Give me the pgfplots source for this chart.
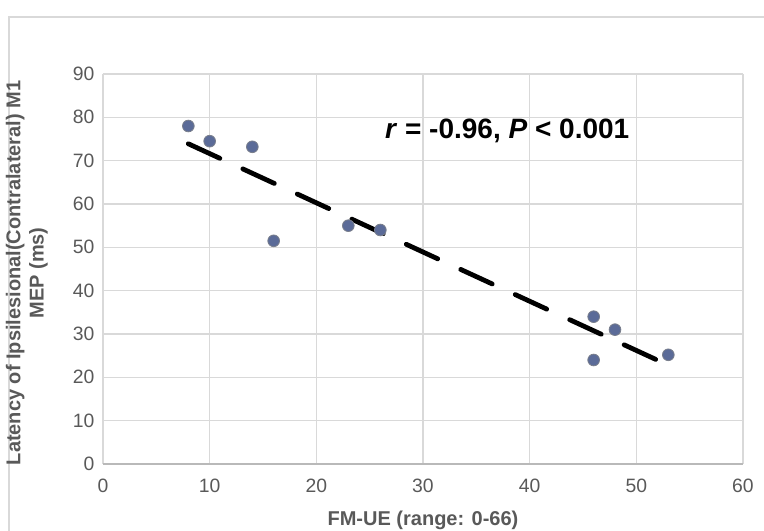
\documentclass[border=0pt]{standalone}
\usepackage{pgfplots}
\pgfplotsset{compat=1.18}
\usepackage{fontspec}
\setmainfont{Liberation Sans}
\definecolor{tickgray}{HTML}{595959}
\definecolor{gridgray}{HTML}{D9D9D9}
\definecolor{ptfill}{HTML}{5B6B98}
\definecolor{ptedge}{HTML}{7A7F8C}
\begin{document}
\begin{tikzpicture}
\useasboundingbox (0,0) rectangle (573pt,398.25pt);
\clip (0,0) rectangle (573pt,398.25pt);
\draw[gridgray, line width=1pt] (6.75pt,-10pt) -- (6.75pt,385.5pt) -- (600pt,385.5pt);
\begin{axis}[
  at={(77.25pt,50.25pt)}, anchor=south west,
  scale only axis, width=480pt, height=292.5pt,
  xmin=0, xmax=60, ymin=0, ymax=90,
  xtick={0,10,...,60}, ytick={0,10,...,90},
  axis x line=bottom, axis y line=left,
  x axis line style={draw=gray!55, line width=0.8pt, -},
  y axis line style={draw=none},
  major tick length=0pt,
  grid=major, major grid style={gridgray, line width=0.8pt},
  /pgf/number format/assume math mode=true,
  tick label style={font=\fontsize{14.5}{17}\selectfont, text=tickgray},
  xticklabel style={yshift=-8pt},
  yticklabel style={xshift=-3pt},
  xlabel={FM-UE (range: 0-66)},
  ylabel={Latency of Ipsilesional(Contralateral) M1\\MEP (ms)},
  label style={font=\bfseries\fontsize{15}{17.5}\selectfont, text=tickgray},
  xlabel style={at={(axis description cs:0.5,-0.144)}, anchor=center},
  ylabel style={at={(axis description cs:-0.119,0.49)}, anchor=center, align=center},
  clip=false,
]
\addplot[only marks, mark=*, mark size=4.4pt, mark options={fill=ptfill, draw=ptedge, line width=0.6pt}]
coordinates {(8,78) (10,74.5) (14,73.2) (16,51.5) (23,55) (26,54) (46,34) (48,31) (46,24) (53,25.2)};
\addplot[black, line width=3.6pt, line cap=round, dash pattern=on 26pt off 19pt]
coordinates {(8,73.9) (53,22.8)};
\node[font=\bfseries\fontsize{21}{24}\selectfont, anchor=center] at (axis cs:37.9,76.9) {\textit{r} = -0.96, \textit{P} < 0.001};
\end{axis}
\end{tikzpicture}
\end{document}
